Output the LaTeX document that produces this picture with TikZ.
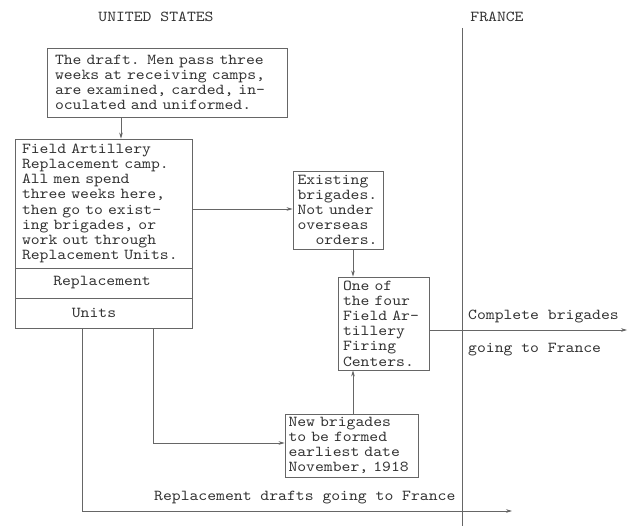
\documentclass[tikz,border=0pt]{standalone}
\usepackage{fontspec}
\newfontfamily\tw[FakeStretch=1.11]{lmmono10-regular.otf}
\usetikzlibrary{arrows.meta}
\definecolor{ink}{HTML}{333333}
\definecolor{rule}{HTML}{666666}
\tikzset{
  every node/.style={font={\tw\fontsize{15.2}{15.2}\selectfont}, text=ink},
  boxnode/.style={draw=rule, line width=0.8pt, inner sep=0pt, align=left},
  lbl/.style={inner sep=0pt},
  conn/.style={draw=rule, line width=0.7pt},
  arr/.style={conn, -{Stealth[length=6pt,width=3.6pt]}}
}
\begin{document}
\begin{tikzpicture}[x=1pt,y=-1pt]
\useasboundingbox[fill=white] (0,0) rectangle (631,526);

% headings
\node[lbl] (us) at (156,17) {UNITED STATES};
\node[lbl] (fr) at (497,17) {FRANCE};

% divider
\coordinate (dtop) at (462,28);
\coordinate (dbot) at (462,526);
\draw[conn] (dtop) -- (dbot);

% boxes
\node[boxnode, minimum width=240pt, minimum height=69pt, text width=224pt] (draft) at (167,82.5)
  {The draft. Men pass three\\weeks at receiving camps,\\are examined, carded, in-\\oculated and uniformed.};

\node[boxnode, minimum width=177pt, minimum height=129pt, text width=163pt] (fa) at (103.5,203.5)
  {Field Artillery\\Replacement camp.\\All men spend\\three weeks here,\\then go to exist-\\ing brigades, or\\work out through\\Replacement Units.};

\node[boxnode, minimum width=177pt, minimum height=30pt] (rep) at (103.5,283) {};
\node[lbl] (reptext) at (102,283) {Replacement};
\node[boxnode, minimum width=177pt, minimum height=30pt] (units) at (103.5,313) {};
\node[lbl] (unitstext) at (94,313) {Units};

\node[boxnode, minimum width=90pt, minimum height=78pt, text width=81pt] (ex) at (338,210)
  {Existing\\brigades.\\Not under\\overseas\\\hspace*{18pt}orders.};

\node[boxnode, minimum width=91pt, minimum height=93pt, text width=81pt] (fc) at (383.5,323.5)
  {One of\\the four\\Field Ar-\\tillery\\Firing\\Centers.};

\node[boxnode, minimum width=133pt, minimum height=63pt, text width=126pt] (nb) at (351.5,445.5)
  {New brigades\\to be formed\\earliest date\\November, 1918};

% labels
\node[lbl, anchor=west] (cb1) at (468,317) {Complete brigades};
\node[lbl, anchor=west] (cb2) at (468,350) {going to France};
\node[lbl, anchor=west] (rd) at (154,498) {Replacement drafts going to France};

% guide coordinates
\coordinate (x121) at (121,0);
\coordinate (y209) at (0,209);
\coordinate (x353) at (353,0);
\coordinate (x153) at (153,0);
\coordinate (x82) at (82,0);
\coordinate (y443) at (0,443);
\coordinate (y330) at (0,330);
\coordinate (endright) at (627,330);
\coordinate (endbot) at (512,511);

% connectors
\draw[arr] (draft.south -| x121) -- (fa.north -| x121);
\draw[arr] (fa.east |- y209) -- (ex.west |- y209);
\draw[arr] (ex.south -| x353) -- (fc.north -| x353);
\draw[arr] (nb.north -| x353) -- (fc.south -| x353);
\draw[arr] (units.south -| x153) |- (nb.west |- y443);
\draw[arr] (units.south -| x82) |- (endbot);
\draw[arr] (fc.east |- y330) -- (endright);
\end{tikzpicture}
\end{document}
